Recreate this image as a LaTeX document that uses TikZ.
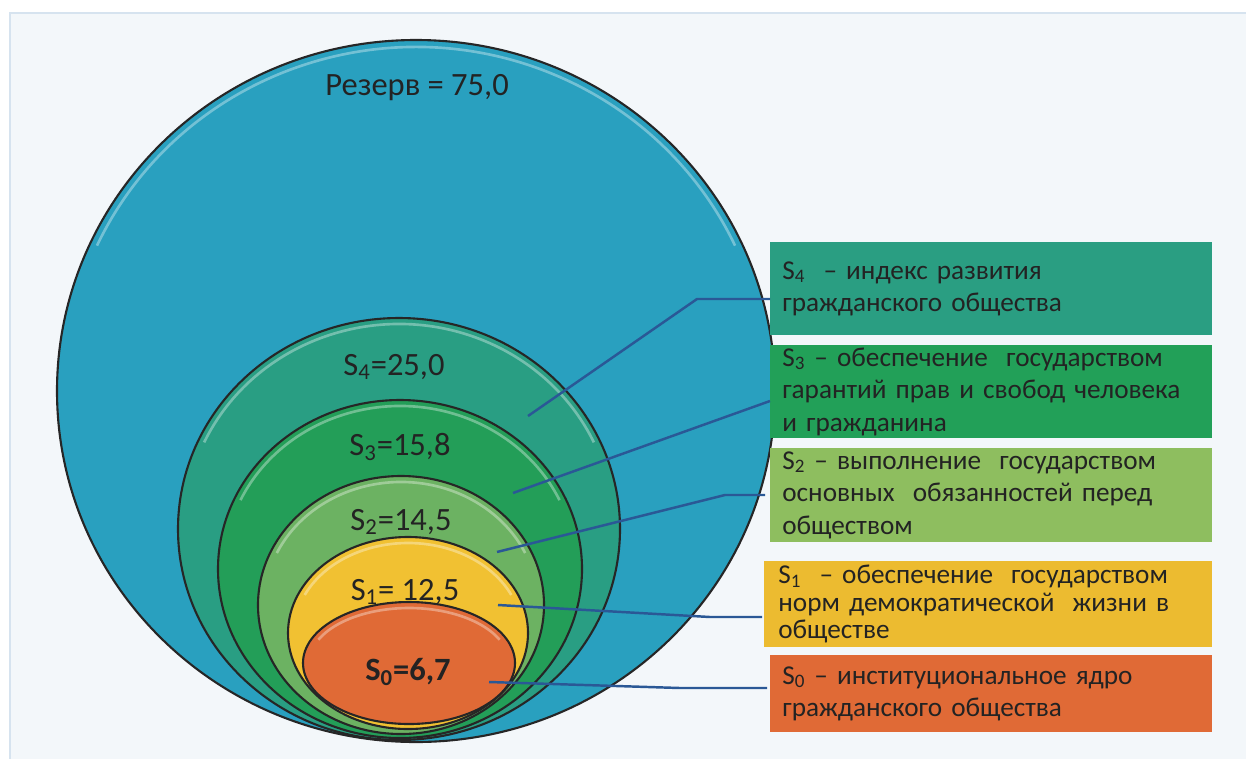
\documentclass[tikz,border=0pt]{standalone}
\usepackage{fontspec}
\setmainfont{Carlito}
\usetikzlibrary{calc}
\definecolor{panel}{RGB}{243,247,250}
\definecolor{panelline}{RGB}{214,227,239}
\definecolor{reserve}{RGB}{41,160,191}
\definecolor{sfour}{RGB}{41,158,131}
\definecolor{sthree}{RGB}{35,158,88}
\definecolor{stwo}{RGB}{108,178,98}
\definecolor{sone}{RGB}{241,193,50}
\definecolor{szero}{RGB}{224,106,54}
\definecolor{boxfour}{RGB}{42,158,130}
\definecolor{boxthree}{RGB}{34,160,88}
\definecolor{boxtwo}{RGB}{142,190,95}
\definecolor{boxone}{RGB}{236,187,48}
\definecolor{boxzero}{RGB}{224,106,54}
\definecolor{leadblue}{RGB}{42,88,150}
\definecolor{ink}{RGB}{35,35,35}
\def\rimarc(#1)(#2:#3:#4:#5){\draw[rim] ($(#1)+({#4*cos(#2)},{#5*sin(#2)})$) arc [start angle=#2, end angle=#3, x radius=#4, y radius=#5];}

\begin{document}
\begin{tikzpicture}[x=0.02cm, y=-0.02cm,
		ring/.style={draw=black!85, line width=1.2pt},
		rim/.style={white, opacity=0.35, line width=1.5pt},
		lead/.style={draw=leadblue, line width=1.4pt},
		tag/.style={font=\fontsize{15.5}{18.7}\selectfont, text=ink, anchor=north west, align=left,
			text width=8.36cm, inner xsep=0.24cm, inner ysep=0pt, minimum height=1.86cm},
		val/.style={font=\fontsize{18.5}{20}\selectfont, text=ink}]
			%%%%% START %%%%%
			
			\useasboundingbox (0,0) rectangle (1246,758);
			\fill[white] (0,0) rectangle (1246,758);
			\draw[fill=panel, draw=panelline, line width=1pt] (10,13) rectangle (1252,764);
			
			\draw[ring, fill=reserve] (416,391) ellipse [x radius=359, y radius=351];
			\rimarc(416,391)(205:335:352:344)
			\node[val] (vr) at (417,88) {Резерв = 75,0};
			
			\draw[ring, fill=sfour] (399,529) ellipse [x radius=221, y radius=211];
			\rimarc(399,529)(205:335:215:205)
			\node[val] (v4) at (394,367) {S\textsubscript{4}=25,0};
			
			\draw[ring, fill=sthree] (400,569) ellipse [x radius=182, y radius=169];
			\rimarc(400,569)(205:335:176:163)
			\node[val] (v3) at (400,447) {S\textsubscript{3}=15,8};
			
			\draw[ring, fill=stwo] (401,605) ellipse [x radius=143, y radius=129];
			\rimarc(401,605)(205:335:137:123)
			\node[val] (v2) at (401,522) {S\textsubscript{2}=14,5};
			
			\draw[ring, fill=sone] (408,633) ellipse [x radius=120, y radius=96];
			\rimarc(408,633)(205:335:114:90)
			\node[val] (v1) at (405,592) {S\textsubscript{1}= 12,5};
			
			\draw[ring, fill=szero] (409,663) ellipse [x radius=106, y radius=61];
			\rimarc(409,663)(205:335:100:55)
			\node[val, font=\fontsize{18.5}{20}\selectfont\bfseries] (v0) at (408,672) {S\textsubscript{0}=6,7};
			
			% legend boxes
			\node[tag, fill=boxfour] (b4) at (770,242) {S\textsubscript{4} \ – индекс развития\\гражданского общества};
			\node[tag, fill=boxthree] (b3) at (770,345) {S\textsubscript{3} – обеспечение \ государством\\гарантий прав и свобод человека\\и гражданина};
			\node[tag, fill=boxtwo, minimum height=1.88cm] (b2) at (770,448) {S\textsubscript{2} – выполнение \ государством\\основных \ обязанностей перед\\обществом};
			\node[tag, fill=boxone, font=\fontsize{15.5}{15.6}\selectfont, text width=8.4cm, inner xsep=0.28cm, minimum height=1.72cm] (b1) at (764,561) {S\textsubscript{1} \ – обеспечение \ государством\\норм демократической \ жизни в\\обществе};
			\node[tag, fill=boxzero, minimum height=1.54cm] (b0) at (770,655) {S\textsubscript{0} – институциональное ядро\\гражданского общества};
			
			% leaders
			\coordinate (p4) at (528,416);
			\coordinate (k4) at (697,299);
			\coordinate (p3) at (513,493);
			\coordinate (k3) at (770,401);
			\coordinate (p2) at (497,552);
			\coordinate (k2) at (725,495);
			\coordinate (p1) at (498,605);
			\coordinate (k1) at (710,617);
			\coordinate (p0) at (489,682);
			\coordinate (k0) at (680,688);
			
			\draw[lead] (p4) -- (k4) -- (b4.west |- k4);
			\draw[lead] (p3) -- (b3.west |- k3);
			\draw[lead] (p2) -- (k2) -- ([xshift=-0.1cm]b2.west |- k2);
			\draw[lead] (p1) -- (k1) -- ([xshift=-0.04cm]b1.west |- k1);
			\draw[lead] (p0) -- (k0) -- ([xshift=-0.06cm]b0.west |- k0);
			
			%%%%% END %%%%%
\end{tikzpicture}
\end{document}
